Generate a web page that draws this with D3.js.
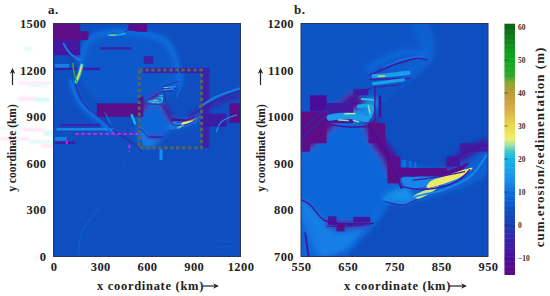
<!DOCTYPE html>
<html lang="en">

<head>
  <meta charset="utf-8">
  <title>Cumulative erosion / sedimentation</title>
  <script src="https://d3js.org/d3.v7.min.js"></script>
  <style>
    html, body { margin: 0; padding: 0; background: #fff; }
    text { font-family: "Liberation Serif", serif; font-weight: bold; fill: #222; }
  </style>
</head>

<body>
  <div id="chart"></div>

  <script>
    // Tick labels
    const xTicksA = [0, 300, 600, 900, 1200];
    const yTicksA = [0, 300, 600, 900, 1200, 1500];
    const xTicksB = [550, 650, 750, 850, 950];
    const yTicksB = [700, 800, 900, 1000, 1100, 1200];
    const barTicks = [-10, 0, 10, 20, 30, 40, 50, 60];

    // Colour table of the bar
    const colorValues = [-15, -10, -5, 0, 5, 10, 15, 20, 22, 24, 26, 30, 35, 40, 43, 45, 50, 55, 61];
    const colorHexes = ["#5f0a86", "#4a109a", "#3a22a8", "#1c3eb0", "#0c52c4", "#0f6fe0", "#1c97ee", "#12b4e4", "#35c8c4", "#9ce0a8",
      "#eef070", "#e8d84c", "#d8ac48", "#b89a38", "#8aa830", "#30a82c", "#10a820", "#0f8a1c", "#0c5c18"];

    const backgroundValue = 4;

    // Smooth patches, km: [value, [x, y], ...] seen in both panels
    const softPatches = [
      [5.5, [550, 1200], [805, 1200], [826, 1129], [798, 1086], [748, 1046], [705, 1011], [680, 986], [550, 925]],
      [7.5, [730, 1110], [790, 1086], [835, 1130], [822, 1200], [790, 1200], [808, 1135], [780, 1115]],
      [8.5, [550, 925], [612, 985], [694, 982], [719, 936], [733, 886], [762, 864], [733, 800], [676, 736], [612, 700], [550, 700]],
      [12, [550, 821], [598, 780], [626, 750], [683, 758], [626, 704], [591, 700], [562, 757], [550, 786]],
      [14, [726, 825], [769, 850], [840, 870], [800, 826], [769, 814]],
      [7.5, [770, 890], [862, 890], [905, 900], [950, 925], [950, 880], [905, 850], [840, 830], [800, 820]]
    ];

    // Wide glows drawn in the soft layer: [value, width, [x, y], ...]
    const softStrands = [
      [-13, 34, [551, 936], [605, 986], [676, 1043]],
      [-13, 30, [698, 990], [712, 950], [737, 914], [758, 864]],
      [9, 12, [690, 1100], [760, 1135], [820, 1135]],
      [14, 22, [610, 1000], [650, 1000], [690, 1010], [705, 1040]],
      [-7, 20, [862, 890], [897, 918], [950, 945]],
      [-8, 14, [605, 770], [650, 768], [700, 772]],
      [11, 12, [550, 790], [570, 760], [590, 705]],
      [9, 10, [640, 700], [690, 760], [720, 810]]
    ];

    // Sharp filled shapes, km: [value, [x, y], ...]
    const fills = [
      [-13, [760, 888], [862, 884], [910, 902], [900, 890], [862, 870], [762, 872]],
      [13, [765, 868], [797, 871], [883, 875], [911, 890], [883, 861], [819, 850], [776, 848]],
      [27, [819, 848], [862, 858], [894, 872], [917, 890], [885, 882], [850, 870], [825, 860]],
      [25, [790, 828], [815, 842], [845, 850], [825, 835], [800, 824]]
    ];

    // Strands, km: [value, width, [x, y], ...] seen in both panels
    const strands = [
      [-3, 3, [551, 951], [612, 1007], [669, 1036]],
      [-3, 2.5, [551, 970], [600, 1012], [650, 1032]],
      [-8, 2.5, [612, 1004], [662, 1039], [698, 1061]],
      [-10, 4, [695, 979], [730, 929], [751, 879], [765, 847]],
      [10, 5, [726, 1104], [769, 1123], [812, 1129]],
      [-9, 3, [698, 1089], [748, 1111], [798, 1125], [819, 1122]],
      [16, 9, [705, 1087], [733, 1089], [780, 1094]],
      [28, 3, [715, 1087], [729, 1087]],
      [-9, 2.5, [698, 1080], [783, 1082]],
      [17, 7, [705, 1071], [769, 1079]],
      [-9, 2, [705, 1063], [762, 1068]],
      [18, 8, [673, 1022], [701, 1022], [697, 1000]],
      [22, 4, [680, 1038], [705, 1036]],
      [24, 3, [694, 1024], [697, 1008]],
      [-11, 2.5, [708, 1064], [708, 993]],
      [-10, 5, [719, 1043], [719, 1000]],
      [16, 14, [612, 998], [650, 1002], [690, 995]],
      [25, 3, [644, 1006], [665, 1007]],
      [24, 3, [630, 993], [651, 992]],
      [24, 3, [662, 992], [673, 989]],
      [-10, 3, [608, 984], [650, 978], [690, 979]],
      [-11, 2.5, [862, 896], [904, 925], [950, 941]],
      [-6, 3, [790, 864], [850, 872], [900, 882]],
      [-9, 3, [765, 850], [819, 844], [883, 861], [911, 886]],
      [13, 4, [726, 825], [769, 814], [797, 829], [854, 843], [911, 871], [947, 918]],
      [-7, 2, [730, 818], [769, 811], [797, 822]],
      [-11, 3, [550, 822], [569, 811], [598, 779], [626, 771], [705, 771]],
      [-9, 2, [605, 764], [698, 768]],
      [-9, 4, [559, 750], [566, 700]]
    ];

    // Coarse cells, km: [value, x0, x1, y0, y1]
    const cellsB = [
      [-15, 550, 605, 943, 1011], [-14, 550, 569, 925, 943], [-10, 569, 605, 1011, 1046], [-9, 605, 662, 986, 1029],
      [-7, 662, 694, 1046, 1060], [-14, 694, 730, 943, 986], [-15, 735, 762, 857, 914], [-13, 790, 862, 875, 890],
      [-8, 862, 890, 893, 914], [-7, 890, 950, 925, 943], [-9, 608, 626, 768, 786], [-15, 626, 643, 754, 772], [-8, 662, 698, 773, 785],
      [10, 765, 775, 888, 907], [10, 781, 786, 888, 905], [10, 792, 797, 890, 902]
    ];
    const cellsA = [
      [-15, 0, 171, 1393, 1500], [-14, 171, 224, 1393, 1450], [-8, 0, 171, 1296, 1393], [-13, 480, 600, 1446, 1500],
      [-14, 278, 576, 900, 985], [-12, 545, 576, 985, 1029], [-5, 576, 1000, 1180, 1215], [-5, 950, 1000, 700, 1200],
      [-6, 940, 1110, 836, 920], [-14, 1130, 1200, 860, 985], [-6, 10, 150, 1202, 1218], [-6, 190, 300, 1200, 1216],
      [-5, 43, 300, 838, 854], [-8, 10, 140, 726, 740], [-5, 300, 500, 1332, 1348], [12, 10, 100, 1215, 1240],
      [14, 20, 384, 812, 826], [12, 10, 85, 745, 770], [14, 680, 700, 620, 690], [-5, 580, 640, 1240, 1290]
    ];

    // Extra features of the whole-domain panel
    const softPatchesA = [
      [6, [171, 1243], [240, 1400], [400, 1440], [600, 1430], [726, 1370], [780, 1200], [780, 1090], [640, 1040], [560, 1000], [300, 990], [190, 1100]]
    ];
    const softStrandsA = [
      [10, 34, [171, 1243], [224, 1393], [363, 1446], [576, 1436], [726, 1382], [790, 1243], [811, 1093]],
      [10, 30, [107, 1136], [171, 986], [299, 868], [384, 793]],
      [-6, 30, [64, 1400], [107, 1320], [150, 1280]],
      [-6, 30, [940, 930], [1046, 990], [1195, 1040]]
    ];
    const strandsA = [
      [9, 10, [171, 1243], [224, 1393], [363, 1446], [576, 1436], [726, 1382], [790, 1243], [811, 1093], [790, 1029]],
      [10, 12, [107, 1136], [171, 986], [299, 868], [384, 793]],
      [-9, 6, [139, 1114], [192, 986], [320, 879], [395, 804], [512, 729], [566, 675]],
      [12, 12, [64, 1371], [107, 1307], [171, 1264]],
      [18, 24, [181, 1232], [167, 1179], [145, 1125]],
      [30, 12, [181, 1232], [167, 1179], [145, 1125]],
      [45, 10, [124, 1243], [132, 1179], [149, 1125]],
      [20, 10, [352, 1425], [395, 1425], [459, 1436]],
      [30, 5, [365, 1425], [395, 1425]],
      [-9, 6, [459, 1446], [512, 1489]],
      [12, 14, [940, 964], [1046, 1029], [1195, 1082]],
      [-9, 5, [961, 954], [1068, 1018], [1195, 1067]],
      [15, 8, [1046, 804], [1078, 868], [1174, 911]],
      [-9, 5, [1057, 836], [1089, 846], [1174, 879]],
      [8, 6, [160, 0], [181, 150], [299, 321]],
      [6, 4, [460, 686], [450, 500]],
      [20, 16, [502, 911], [523, 857]],
      [-8, 4, [310, 925], [345, 860]],
      [16, 4, [330, 925], [365, 860]],
      [6.5, 5, [1050, 25], [1140, 30]],
      [6.5, 5, [1050, 60], [1140, 65]],
      [6.5, 5, [1050, 95], [1135, 100]]
    ];

    // Pale streaks left of panel a, km on its scales: [colour, x0, x1, y0, y1]
    const paleStreaks = [
      ["#ffc8f0", -230, -10, 1112, 1124], ["#b8f4f4", -170, -40, 1094, 1104],
      ["#ffc8f0", -230, -120, 1006, 1024], ["#b8f4f4", -120, -20, 996, 1022],
      ["#b8f4f4", -340, -200, 820, 832], ["#ffc8f0", -200, -60, 808, 824], ["#b8f4f4", -60, -5, 778, 810],
      ["#ffc8f0", -340, -150, 750, 764], ["#b8f4f4", -150, -5, 730, 746], ["#ffc8f0", -80, -5, 704, 718],
      ["#b8f4f4", -190, -140, 1330, 1346]
    ];

    // Outlines marked on the whole-domain panel
    const boxXs = [550, 950];
    const boxYs = [700, 1200];
    const markerH = [[140, 790], [545, 790]];
    const markerV = [[487, 720], [487, 675]];
    const markerV2 = [[85, 745], [85, 715]];

    var width = 550, height = 296;

    var svg = d3.select("#chart").append("svg")
      .attr("width", width).attr("height", height)
      .style("display", "block");

    var defs = svg.append("defs");
    defs.append("filter").attr("id", "soft").attr("x", "-20%").attr("y", "-20%").attr("width", "140%").attr("height", "140%")
      .append("feGaussianBlur").attr("stdDeviation", 2.5);
    defs.append("filter").attr("id", "crisp").attr("x", "-5%").attr("y", "-5%").attr("width", "110%").attr("height", "110%")
      .append("feGaussianBlur").attr("stdDeviation", 0.6);
    defs.append("filter").attr("id", "haze").attr("x", "-10%").attr("y", "-10%").attr("width", "120%").attr("height", "120%")
      .append("feGaussianBlur").attr("stdDeviation", 1);

    var color = d3.scaleLinear().domain(colorValues).range(colorHexes).clamp(true);

    var plotTop = 23.5, plotBottom = 256.5;

    function drawPanel(id, left, right, xDomain, yDomain, xTicks, yTicks, soft, glows, cells, lines) {
      var x = d3.scaleLinear().domain(xDomain).range([left, right]);
      var y = d3.scaleLinear().domain(yDomain).range([plotBottom, plotTop]);
      var scaleK = (right - left) / (xDomain[1] - xDomain[0]);

      defs.append("clipPath").attr("id", "clip-" + id).append("rect")
        .attr("x", left).attr("y", plotTop).attr("width", right - left).attr("height", plotBottom - plotTop);

      var panel = svg.append("g").attr("clip-path", "url(#clip-" + id + ")");

      panel.append("rect")
        .attr("x", left).attr("y", plotTop).attr("width", right - left).attr("height", plotBottom - plotTop)
        .attr("fill", color(backgroundValue));

      var area = d3.line().x(d => x(d[0])).y(d => y(d[1])).curve(d3.curveCatmullRomClosed);
      var curve = d3.line().x(d => x(d[0])).y(d => y(d[1])).curve(d3.curveCatmullRom);

      var softLayer = panel.append("g").attr("filter", "url(#soft)");
      softLayer.selectAll("path.patch").data(soft).enter()
        .append("path").attr("class", "patch")
        .attr("d", d => area(d.slice(1)))
        .attr("fill", d => color(d[0]));
      softLayer.selectAll("path.glow").data(glows).enter()
        .append("path").attr("class", "glow")
        .attr("d", d => curve(d.slice(2)))
        .attr("fill", "none")
        .attr("stroke", d => color(d[0]))
        .attr("stroke-width", d => d[1] * scaleK);

      var crisp = panel.append("g").attr("filter", "url(#crisp)");
      crisp.selectAll("rect").data(cells).enter()
        .append("rect")
        .attr("x", d => x(d[1]))
        .attr("y", d => y(d[4]))
        .attr("width", d => x(d[2]) - x(d[1]))
        .attr("height", d => y(d[3]) - y(d[4]))
        .attr("fill", d => color(d[0]));
      crisp.selectAll("path.fill").data(fills).enter()
        .append("path").attr("class", "fill")
        .attr("d", d => area(d.slice(1)))
        .attr("fill", d => color(d[0]));
      crisp.selectAll("path.strand").data(lines).enter()
        .append("path").attr("class", "strand")
        .attr("d", d => curve(d.slice(2)))
        .attr("fill", "none")
        .attr("stroke", d => color(d[0]))
        .attr("stroke-width", d => Math.max(d[1] * scaleK, 0.7))
        .attr("stroke-linecap", "round");

      var xAxis = svg.append("g")
        .attr("transform", "translate(0," + plotBottom + ")")
        .call(d3.axisBottom(x).tickValues(xTicks).tickSize(0).tickPadding(6).tickFormat(d3.format("d")));
      var yAxis = svg.append("g")
        .attr("transform", "translate(" + left + ",0)")
        .call(d3.axisLeft(y).tickValues(yTicks).tickSize(0).tickPadding(7).tickFormat(d3.format("d")));

      [xAxis, yAxis].forEach(function (a) {
        a.selectAll("text").style("font-family", '"Liberation Serif", serif').style("font-weight", "bold")
          .style("font-size", "12.5px").style("letter-spacing", "0.4px").style("fill", "#222");
      });
      svg.append("rect")
        .attr("x", left).attr("y", plotTop).attr("width", right - left).attr("height", plotBottom - plotTop)
        .attr("fill", "none").attr("stroke", "#2a3560").attr("stroke-width", 1);
      xAxis.select(".domain").remove();
      yAxis.select(".domain").remove();

      return { x: x, y: y };
    }

    // Pale streaks go first so the labels stay on top
    var streakX = d3.scaleLinear().domain([0, 1200]).range([53.5, 240.5]);
    var streakY = d3.scaleLinear().domain([0, 1500]).range([plotBottom, plotTop]);
    svg.append("g").attr("filter", "url(#haze)").attr("opacity", 0.6).selectAll("rect").data(paleStreaks).enter()
      .append("rect")
      .attr("x", d => streakX(d[1]))
      .attr("y", d => streakY(d[4]))
      .attr("width", d => streakX(d[2]) - streakX(d[1]))
      .attr("height", d => streakY(d[3]) - streakY(d[4]))
      .attr("fill", d => d[0]);

    var a = drawPanel("a", 53.5, 240.5, [0, 1200], [0, 1500], xTicksA, yTicksA,
      softPatches.concat(softPatchesA), softStrands.concat(softStrandsA), cellsA, strands.concat(strandsA));
    drawPanel("b", 301, 488, [550, 950], [700, 1200], xTicksB, yTicksB, softPatches, softStrands, cellsB, strands);

    // Dashed study box and markers on panel a
    svg.append("rect")
      .attr("x", a.x(boxXs[0])).attr("y", a.y(boxYs[1]))
      .attr("width", a.x(boxXs[1]) - a.x(boxXs[0]))
      .attr("height", a.y(boxYs[0]) - a.y(boxYs[1]))
      .attr("fill", "none").attr("stroke", "#55655f").attr("stroke-width", 3).attr("stroke-dasharray", "3.5 2.5");

    var markerLine = d3.line().x(d => a.x(d[0])).y(d => a.y(d[1]));
    [markerH, markerV, markerV2].forEach(function (m) {
      svg.append("path").attr("d", markerLine(m)).attr("fill", "none")
        .attr("stroke", "#f018e0").attr("stroke-width", 1.8).attr("stroke-dasharray", "3.5 2.5");
    });

    // Colour bar
    var barX = 504.5, barW = 10.5;
    var barY = d3.scaleLinear().domain([60, -10]).range([27, 258]);
    var barSteps = d3.range(-15, 61, 0.5);
    svg.append("g").selectAll("rect").data(barSteps).enter()
      .append("rect")
      .attr("x", barX).attr("width", barW)
      .attr("y", d => barY(d + 0.5))
      .attr("height", d => barY(d) - barY(d + 0.5) + 0.5)
      .attr("fill", d => color(d));

    var barAxis = svg.append("g").attr("transform", "translate(" + (barX + barW) + ",0)")
      .call(d3.axisRight(barY).tickValues(barTicks).tickSize(0).tickPadding(3).tickFormat(d3.format("d")));
    barAxis.select(".domain").remove();
    barAxis.selectAll("text").style("font-family", '"Liberation Serif", serif').style("font-weight", "bold")
      .style("font-size", "7.5px").style("fill", "#333");
    svg.append("g").selectAll("line").data(barTicks.slice(0, -1)).enter()
      .append("line")
      .attr("x1", barX).attr("x2", barX + 3)
      .attr("y1", d => barY(d)).attr("y2", d => barY(d))
      .attr("stroke", "#222").attr("stroke-width", 0.6);

    // Labels
    function label(txt, x, y, size, rotate, spacing) {
      var t = svg.append("text").text(txt).attr("font-size", size).attr("letter-spacing", (spacing || 0) + "px");
      if (rotate) {
        t.attr("text-anchor", "middle").attr("transform", "translate(" + x + "," + y + ") rotate(-90)");
      } else {
        t.attr("x", x).attr("y", y);
      }
    }
    label("a.", 48, 14, 13, false, 0.4);
    label("b.", 294, 14, 13, false, 0.4);
    label("x coordinate (km)", 97, 290, 12.5, false, 0.7);
    label("x coordinate (km)", 344, 290, 12.5, false, 0.7);
    label("y coordinate (km)", 16, 148, 11.5, true);
    label("y coordinate (km)", 265, 148, 11.5, true);
    label("cum.erosion/sedimentation (m)", 544, 147, 13, true, 1);

    // Arrows beside the axis titles
    function arrow(x1, y1, x2, y2) {
      svg.append("line").attr("x1", x1).attr("y1", y1).attr("x2", x2).attr("y2", y2)
        .attr("stroke", "#222").attr("stroke-width", 1.2);
      var ang = Math.atan2(y2 - y1, x2 - x1);
      var p = [[x2 + 2 * Math.cos(ang), y2 + 2 * Math.sin(ang)],
        [x2 - 4 * Math.cos(ang) + 2.8 * Math.sin(ang), y2 - 4 * Math.sin(ang) - 2.8 * Math.cos(ang)],
        [x2 - 2 * Math.cos(ang), y2 - 2 * Math.sin(ang)],
        [x2 - 4 * Math.cos(ang) - 2.8 * Math.sin(ang), y2 - 4 * Math.sin(ang) + 2.8 * Math.cos(ang)]];
      svg.append("path").attr("d", "M" + p.join("L") + "Z").attr("fill", "#222");
    }
    arrow(203, 286, 217, 286);
    arrow(449, 286, 465, 286);
    arrow(12.5, 85, 12.5, 70);
    arrow(260.5, 85, 260.5, 70);
  </script>
</body>

</html>
